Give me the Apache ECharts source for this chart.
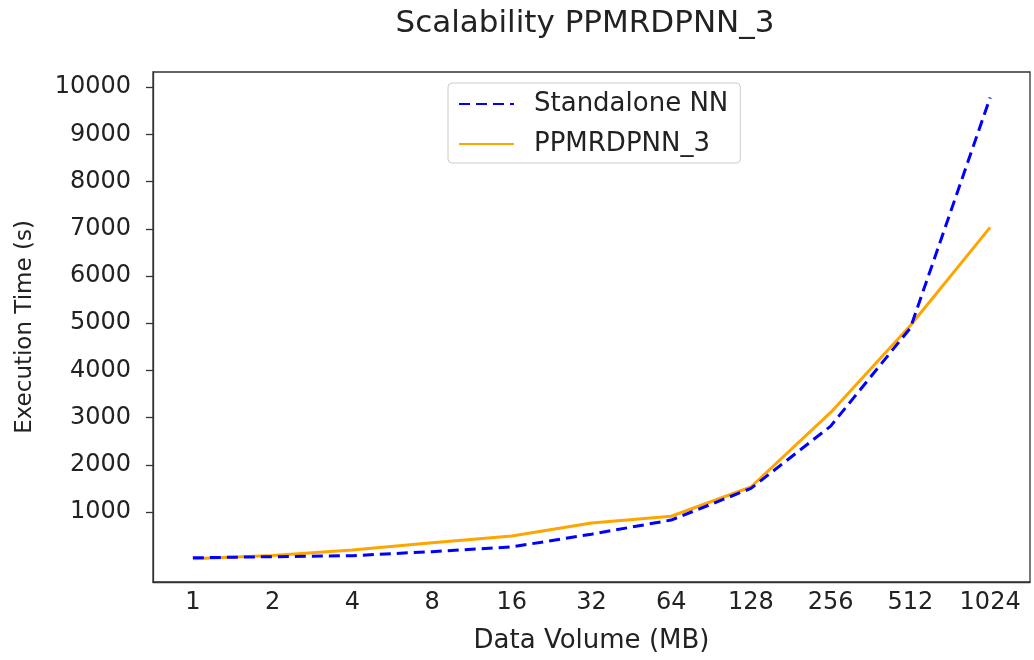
<!DOCTYPE html>
<html>
<head>
<meta charset="utf-8">
<script src="https://cdn.jsdelivr.net/npm/echarts@6/dist/echarts.min.js"></script>
<style>html,body{margin:0;padding:0;background:#fff}#c{width:1034px;height:660px}</style>
</head>
<body>
<div id="c"></div>
<script>
const categories = ['1','2','4','8','16','32','64','128','256','512','1024'];
const standaloneNN = [30, 53, 75, 160, 260, 530, 830, 1500, 2820, 4900, 9780];
const ppmrdpnn3 = [10, 80, 195, 350, 490, 765, 910, 1530, 3110, 4950, 7030];
const yTicks = [1000,2000,3000,4000,5000,6000,7000,8000,9000,10000];

const font = 'DejaVu Sans';
const chart = echarts.init(document.getElementById('c'));
chart.setOption({
  animation: false,
  backgroundColor: '#fff',
  title: {
    text: 'Scalability PPMRDPNN_3',
    left: 580, top: 3, textAlign: 'center',
    textStyle: {fontFamily: font, fontSize: 31, fontWeight: 'normal', color: '#222'}
  },
  grid: {left: 153, right: 4, top: 72, bottom: 78, show: true, borderColor: '#333', borderWidth: 1.3, backgroundColor: 'transparent'},
  legend: {
    orient: 'vertical', left: 448, top: 83,
    padding: [8, 12, 6, 10],
    borderColor: '#ccc', borderWidth: 1, borderRadius: 4,
    itemWidth: 55, itemHeight: 14, itemGap: 14,
    itemStyle: {opacity: 0},
    textStyle: {fontFamily: font, fontSize: 26, color: '#222', padding: [0, 0, 0, 15]},
    data: ['Standalone NN', 'PPMRDPNN_3']
  },
  xAxis: {
    type: 'category', data: categories, boundaryGap: true,
    name: 'Data Volume (MB)', nameLocation: 'middle', nameGap: 46,
    nameTextStyle: {fontFamily: font, fontSize: 26, color: '#222'},
    axisLine: {onZero: false, lineStyle: {color: '#333', width: 1.3}},
    axisTick: {alignWithLabel: true, length: 7, lineStyle: {color: '#333', width: 1.3}},
    axisLabel: {fontFamily: font, fontSize: 24, color: '#222', margin: 9},
    splitLine: {show: false}
  },
  yAxis: {
    type: 'value', min: -483, max: 10322,
    name: 'Execution Time (s)', nameLocation: 'middle', nameGap: 116,
    nameTextStyle: {fontFamily: font, fontSize: 23, color: '#222'},
    axisLine: {show: true, lineStyle: {color: '#333', width: 1.3}},
    axisTick: {show: true, length: 7, customValues: yTicks, lineStyle: {color: '#333', width: 1.3}},
    axisLabel: {fontFamily: font, fontSize: 24, color: '#222', margin: 22, customValues: yTicks, formatter: v => String(v)},
    splitLine: {show: false}
  },
  series: [
    {
      name: 'Standalone NN', type: 'line', data: standaloneNN,
      symbol: 'none', smooth: false,
      lineStyle: {color: '#0000ff', width: 3, type: [11, 6]},
      itemStyle: {color: '#0000ff'}, z: 3
    },
    {
      name: 'PPMRDPNN_3', type: 'line', data: ppmrdpnn3,
      symbol: 'none', smooth: false,
      lineStyle: {color: '#ffa500', width: 3},
      itemStyle: {color: '#ffa500'}, z: 2
    }
  ]
});
</script>
</body>
</html>
